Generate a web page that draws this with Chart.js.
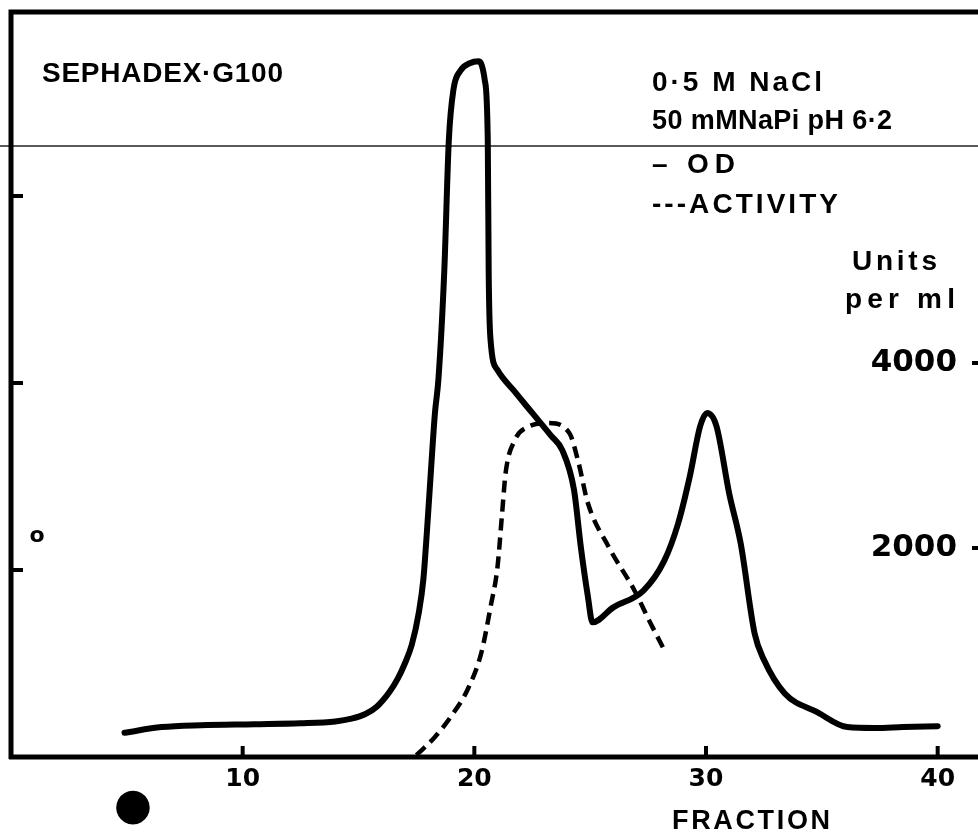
<!DOCTYPE html>
<html><head><meta charset="utf-8">
<style>html,body{margin:0;padding:0;background:#fff;overflow:hidden;width:978px;height:835px}canvas{display:block}</style>
<script src="https://cdn.jsdelivr.net/npm/chart.js@4.4.1/dist/chart.umd.min.js"></script>
</head><body><canvas id="c" width="1000" height="835"></canvas>
<script>
// ---- data ----
const odFraction = [4.9, 6.5, 8.2, 10.5, 12.5, 14.0, 14.7, 15.3, 15.8, 16.35, 16.7, 17.0, 17.3, 17.6, 17.8, 17.95, 18.1, 18.3, 18.45, 18.7, 18.9, 19.1, 19.4, 19.8, 20.2, 20.45, 20.58, 20.62, 20.7, 21.0, 21.7, 22.5, 23.3, 23.8, 24.3, 24.6, 24.9, 25.1, 26.0, 27.3, 28.2, 28.8, 29.3, 29.75, 30.05, 30.45, 31.0, 31.5, 32.1, 32.5, 33.4, 34.8, 36.1, 37.3, 38.5, 40.0];
const odValues   = [0.13, 0.16, 0.17, 0.175, 0.18, 0.19, 0.205, 0.23, 0.27, 0.35, 0.42, 0.50, 0.60, 0.77, 0.95, 1.2, 1.48, 1.84, 2.02, 2.59, 3.30, 3.57, 3.67, 3.71, 3.72, 3.62, 3.30, 2.59, 2.23, 2.07, 1.96, 1.84, 1.72, 1.64, 1.43, 1.12, 0.86, 0.72, 0.80, 0.89, 1.05, 1.25, 1.50, 1.77, 1.84, 1.77, 1.41, 1.14, 0.66, 0.52, 0.34, 0.24, 0.16, 0.155, 0.16, 0.165];
const actFraction = [17.5, 18.3, 19.1, 19.7, 20.3, 20.7, 21.0, 21.2, 21.35, 21.75, 22.3, 23.2, 24.1, 24.5, 24.9, 25.8, 26.9, 27.6, 28.2];
const actValues   = [-240, -43, 216, 465, 865, 1362, 1795, 2378, 2811, 3167, 3308, 3351, 3243, 2919, 2486, 2011, 1546, 1189, 897];
const xTickValues = [10, 20, 30, 40];
const odTickValues = [1, 2, 3];
const actTickValues = [2000, 4000];
const foldLineOD = 3.267;

const texts = [
  {t:'SEPHADEX·G100', x:42, y:74, size:28, w:241},
  {t:'0·5 M NaCl', x:652, y:83, size:28, w:170},
  {t:'50 mMNaPi pH 6·2', x:652, y:122, size:27, w:240},
  {t:'– OD', x:652, y:165, size:28, w:83},
  {t:'---ACTIVITY', x:652, y:205, size:28, w:186},
  {t:'Units', x:852, y:262, size:28, w:85},
  {t:'per ml', x:845, y:300, size:28, w:110},
  {t:'FRACTION', x:672, y:822, size:27, w:158}
];

function fitText(g, o){
  g.font = 'bold ' + o.size + 'px "Liberation Sans"';
  g.textBaseline = 'middle'; g.textAlign = 'left';
  g.letterSpacing = '0px';
  const w = g.measureText(o.t).width;
  const ls = (o.w - w) / Math.max(1, o.t.length - 1);
  g.letterSpacing = ls.toFixed(2) + 'px';
  g.fillText(o.t, o.x, o.y);
  g.letterSpacing = '0px';
}

function noPad(s){ s.paddingTop = 0; s.paddingBottom = 0; s.paddingLeft = 0; s.paddingRight = 0; }

const framePlugin = {
  id: 'frame',
  beforeDraw(c){ const g=c.ctx; g.save(); g.fillStyle='#fff'; g.fillRect(0,0,c.width,c.height); g.restore(); },
  beforeDatasetsDraw(c){
    const g=c.ctx, yo=c.scales.yOD;
    g.save(); g.strokeStyle='#222'; g.lineWidth=1.5;
    const fy=yo.getPixelForValue(foldLineOD);
    g.beginPath(); g.moveTo(0,fy); g.lineTo(c.width,fy); g.stroke(); g.restore();
  },
  afterDraw(c){
    const g=c.ctx, a=c.chartArea, x=c.scales.x, yo=c.scales.yOD, ya=c.scales.yAct;
    g.save(); g.strokeStyle='#000'; g.fillStyle='#000'; g.lineCap='butt';
    g.lineWidth=5;
    g.beginPath(); g.moveTo(a.left, a.bottom+2); g.lineTo(a.left, a.top); g.lineTo(c.width, a.top); g.stroke();
    g.beginPath(); g.moveTo(a.left-2, a.bottom); g.lineTo(c.width, a.bottom); g.stroke();
    g.lineWidth=4;
    xTickValues.forEach(v=>{const px=x.getPixelForValue(v); g.beginPath(); g.moveTo(px,a.bottom); g.lineTo(px,a.bottom-11); g.stroke();});
    odTickValues.forEach(v=>{const py=yo.getPixelForValue(v); g.beginPath(); g.moveTo(a.left,py); g.lineTo(a.left+12,py); g.stroke();});
    actTickValues.forEach(v=>{const py=ya.getPixelForValue(v); g.beginPath(); g.moveTo(a.right,py); g.lineTo(a.right-12,py); g.stroke();});
    texts.forEach(o=>fitText(g,o));
    g.font='bold 22px "DejaVu Sans"'; g.textAlign='center'; g.textBaseline='middle';
    g.fillText('o', 37, 536);
    g.font='44px "DejaVu Sans"';
    g.fillText('●', 133, 808);
    g.restore();
  }
};

new Chart(document.getElementById('c').getContext('2d'), {
  type:'line',
  data:{datasets:[
    {label:'OD', data: odFraction.map((f,i)=>({x:f, y:odValues[i]})), yAxisID:'yOD', borderColor:'#000', borderWidth:6, pointRadius:0, cubicInterpolationMode:'monotone', borderCapStyle:'round', borderJoinStyle:'round', fill:false},
    {label:'ACTIVITY', data: actFraction.map((f,i)=>({x:f, y:actValues[i]})), yAxisID:'yAct', borderColor:'#000', borderWidth:4.5, borderDash:[12,7], pointRadius:0, cubicInterpolationMode:'monotone', fill:false}
  ]},
  options:{
    responsive:false, animation:false, devicePixelRatio:1,
    layout:{padding:{left:11, top:12, right:16, bottom:0}},
    plugins:{legend:{display:false}, tooltip:{enabled:false}},
    scales:{
      x:{type:'linear', min:0, max:42, grid:{display:false, drawTicks:false}, border:{display:false},
         afterFit(s){ s.height = 78; noPad(s); }, afterBuildTicks(s){ s.ticks = xTickValues.map(v=>({value:v})); },
         ticks:{color:'#000', font:{family:'"DejaVu Sans"', weight:'bold', size:25}, padding:7, maxRotation:0, autoSkip:false, callback:v=>String(v)}},
      yOD:{type:'linear', position:'left', min:0, max:3.984, grid:{display:false, drawTicks:false}, border:{display:false},
         afterFit(s){ s.width = 0; noPad(s); }, afterBuildTicks(s){ s.ticks = odTickValues.map(v=>({value:v})); }, ticks:{display:false}},
      yAct:{type:'linear', position:'right', min:-260, max:7795, grid:{display:false, drawTicks:false}, border:{display:false},
         afterFit(s){ s.width = 0; noPad(s); }, afterBuildTicks(s){ s.ticks = actTickValues.map(v=>({value:v})); },
         ticks:{mirror:true, color:'#000', font:{family:'"DejaVu Sans"', weight:'bold', size:31}, padding:-27, callback:v=>String(v)}}
    }
  },
  plugins:[framePlugin]
});
</script></body></html>
